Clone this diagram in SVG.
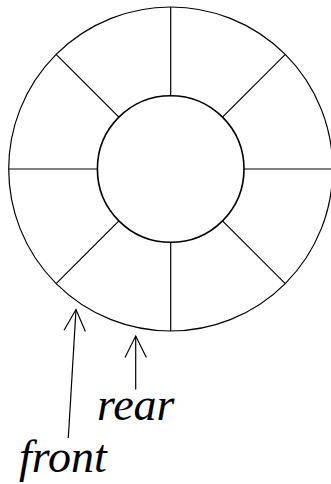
<svg xmlns="http://www.w3.org/2000/svg" width="331" height="484" viewBox="0 0 331 484">
  <defs>
    <marker id="arr" markerUnits="userSpaceOnUse" markerWidth="30" markerHeight="30" viewBox="-25 -15 30 30" refX="0" refY="0" orient="auto">
      <path d="M-21.5,-10.7 L0,0 L-21.5,10.7" fill="none" stroke="#000" stroke-width="1.2"/>
    </marker>
  </defs>
  <style>
    .ring { fill: none; stroke: #000; }
    .spoke { stroke: #000; stroke-width: 1.2; }
    .conn { stroke: #000; stroke-width: 1.2; fill: none; marker-end: url(#arr); }
  </style>
  <rect width="331" height="484" fill="#fff"/>
  <g id="queue">
    <circle class="ring" cx="170.7" cy="169" r="162" stroke-width="1.2"/>
    <circle class="ring" cx="170.7" cy="169" r="73.3" stroke-width="1.6"/>
    <g transform="translate(170.7,169)">
      <line class="spoke" x1="0" y1="-73.3" x2="0" y2="-162"/>
      <line class="spoke" x1="0" y1="73.3" x2="0" y2="162"/>
      <line class="spoke" x1="73.3" y1="0" x2="162" y2="0"/>
      <line class="spoke" x1="-73.3" y1="0" x2="-162" y2="0"/>
      <line class="spoke" x1="51.8" y1="-51.8" x2="114.6" y2="-114.6"/>
      <line class="spoke" x1="-51.8" y1="-51.8" x2="-114.6" y2="-114.6"/>
      <line class="spoke" x1="51.8" y1="51.8" x2="114.6" y2="114.6"/>
      <line class="spoke" x1="-51.8" y1="51.8" x2="-114.6" y2="114.6"/>
    </g>
  </g>
  <g id="connectors">
    <line class="conn" x1="68.3" y1="438" x2="76" y2="309.5"/>
    <line class="conn" x1="135.7" y1="389.5" x2="135.7" y2="336"/>
  </g>
  <g id="labels" font-family="Liberation Serif" font-style="italic" font-size="46" fill="#000">
    <g id="label-rear">
      <text x="97" y="420">rear</text>
    </g>
    <g id="label-front">
      <text x="19" y="471.5">front</text>
    </g>
  </g>
</svg>
